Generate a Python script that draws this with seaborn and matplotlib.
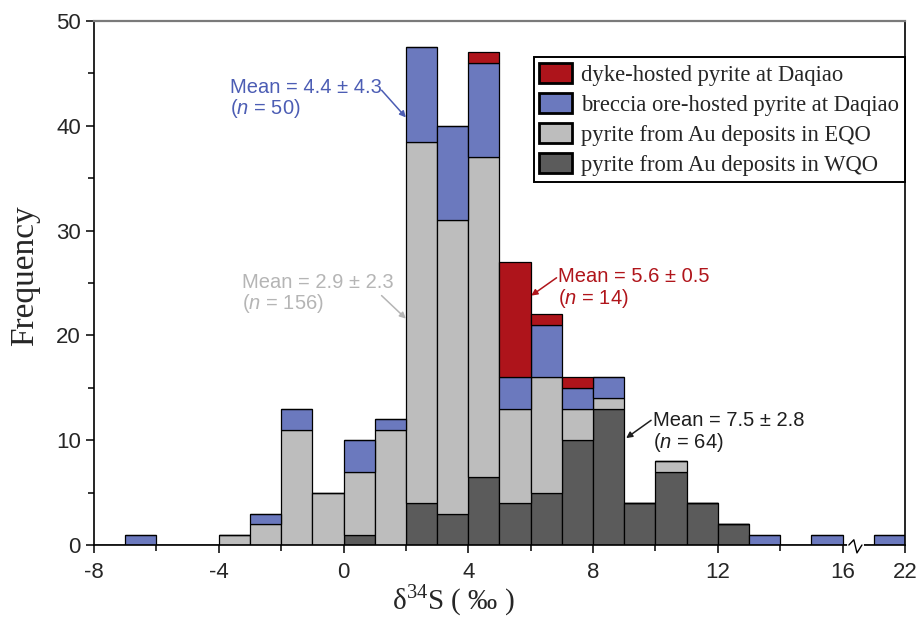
import numpy as np
import pandas as pd
import matplotlib
matplotlib.use("Agg")
import matplotlib.pyplot as plt
import matplotlib.patches as mpatches
import seaborn as sns

# ── Data (bin left edges in δ34S ‰, bin width = 1) ────────────────────────────
wqo_bins = [0, 2, 3, 4, 5, 6, 7, 8, 9, 10, 11, 12]
wqo_counts = [1, 4, 3, 6.5, 4, 5, 10, 13, 4, 7, 4, 2]

eqo_bins = [-4, -3, -2, -1, 0, 1, 2, 3, 4, 5, 6, 7, 8, 10]
eqo_counts = [1, 2, 11, 5, 6, 11, 34.5, 28, 30.5, 9, 11, 3, 1, 1]

breccia_bins = [-7, -3, -2, 0, 1, 2, 3, 4, 5, 6, 7, 8, 13, 15, 21]
breccia_counts = [1, 1, 2, 3, 1, 9, 9, 9, 3, 5, 2, 2, 1, 1, 1]

dyke_bins = [4, 5, 6, 7]
dyke_counts = [1, 11, 1, 1]

groups = [
    "dyke-hosted pyrite at Daqiao",
    "breccia ore-hosted pyrite at Daqiao",
    "pyrite from Au deposits in EQO",
    "pyrite from Au deposits in WQO",
]
colors = ["#AE141B", "#6B79BE", "#BDBDBD", "#5B5B5B"]

x_ticks = [-8, -4, 0, 4, 8, 12, 16, 22]

# annotations: text, colour, text anchor (x, y), arrow tail (x, y), arrow tip (x, y)
notes = [
    ("Mean = 4.4 ± 4.3\n($n$ = 50)", "#4C5DB4", (-3.65, 44.6), (1.22, 43.4), (2.0, 40.8)),
    ("Mean = 2.9 ± 2.3\n($n$ = 156)", "#B5B5B5", (-3.26, 26.0), (1.22, 23.8), (2.0, 21.6)),
    ("Mean = 5.6 ± 0.5\n($n$ = 14)", "#B0151B", (6.86, 26.5), (6.83, 25.5), (6.02, 23.8)),
    ("Mean = 7.5 ± 2.8\n($n$ = 64)", "#1E1E1E", (9.92, 12.8), (9.86, 11.9), (9.06, 10.2)),
]

# axis break: values above 17 ‰ are shifted left by 4 (16 | 22)
BREAK_AT, BREAK_SHIFT = 17, 4


def to_axis(v):
    return v - BREAK_SHIFT if v >= BREAK_AT else v


rows = []
for name, bins, counts in zip(
    groups,
    [dyke_bins, breccia_bins, eqo_bins, wqo_bins],
    [dyke_counts, breccia_counts, eqo_counts, wqo_counts],
):
    for b, c in zip(bins, counts):
        rows.append({"group": name, "pos": to_axis(b) + 0.5, "count": c})
df = pd.DataFrame(rows)

# ── Style ─────────────────────────────────────────────────────────────────────
sns.set_style("ticks")
plt.rcParams["font.family"] = ["Liberation Sans", "DejaVu Sans"]
plt.rcParams["mathtext.fontset"] = "custom"
plt.rcParams["mathtext.rm"] = "Liberation Serif"
plt.rcParams["mathtext.it"] = "Liberation Sans:italic"

fig = plt.figure(figsize=(9.23, 6.18), dpi=100)
ax = fig.add_axes([0.1018, 0.1181, 0.8787, 0.8479])

sns.histplot(
    data=df, x="pos", weights="count", hue="group", hue_order=groups,
    multiple="stack", binwidth=1, binrange=(-8, 18),
    palette=colors, alpha=1, edgecolor="black", linewidth=0.9,
    legend=False, ax=ax,
)

ax.set_xlim(-8, 18)
ax.set_ylim(0, 50)

ax.set_xticks([to_axis(t) for t in x_ticks])
ax.set_xticklabels([str(t) for t in x_ticks])
ax.set_xticks([-6, -2, 2, 6, 10, 14], minor=True)
ax.set_yticks(range(0, 51, 10))
ax.set_yticks(range(5, 50, 10), minor=True)
ax.tick_params(axis="both", which="major", length=6, width=1.1,
               labelsize=16, color="black", direction="out")
ax.tick_params(axis="both", which="minor", length=4, width=1.1,
               color="black", direction="out")
ax.tick_params(axis="x", pad=6)

for side in ["left", "right", "bottom"]:
    ax.spines[side].set_color("black")
    ax.spines[side].set_linewidth(1.2)
ax.spines["top"].set_visible(True)
ax.spines["right"].set_visible(True)
ax.spines["top"].set_color("#7A7A7A")
ax.spines["top"].set_linewidth(1.6)

ax.set_xlabel("δ$^{34}$S ( ‰ )", family="Liberation Serif", fontsize=21)
ax.xaxis.set_label_coords(0.443, -0.071)
ax.set_ylabel("Frequency", family="Liberation Serif", fontsize=24)
ax.yaxis.set_label_coords(-0.066, 0.515)

# break mark on the x axis
ax.plot([16.2, 16.62], [0, 0], color="white", lw=3, zorder=5, clip_on=False)
ax.plot([16.2, 16.36, 16.46, 16.62], [0, 0.5, -0.75, 0], color="black",
        lw=1.0, zorder=6, clip_on=False)

# legend
handles = [mpatches.Patch(facecolor=c, edgecolor="black", linewidth=2) for c in colors]
leg = ax.legend(
    handles, groups, loc="upper right", bbox_to_anchor=(1.0, 0.931),
    borderaxespad=0, frameon=True, fancybox=False, framealpha=1,
    prop={"family": "Liberation Serif", "size": 16.3},
    handlelength=1.45, handleheight=1.0, handletextpad=0.4,
    labelspacing=0.32, borderpad=0.25,
)
leg.get_frame().set_edgecolor("black")
leg.get_frame().set_linewidth(1.4)

for text, col, xy_text, xy_from, xy_tip in notes:
    ax.text(xy_text[0], xy_text[1], text, color=col, fontsize=14.5,
            va="top", ha="left", linespacing=1.05)
    ax.annotate("", xy=xy_tip, xytext=xy_from,
                arrowprops=dict(arrowstyle="-|>", color=col, lw=1.1,
                                mutation_scale=9, shrinkA=0, shrinkB=0))

plt.savefig("out.png", dpi=100)
